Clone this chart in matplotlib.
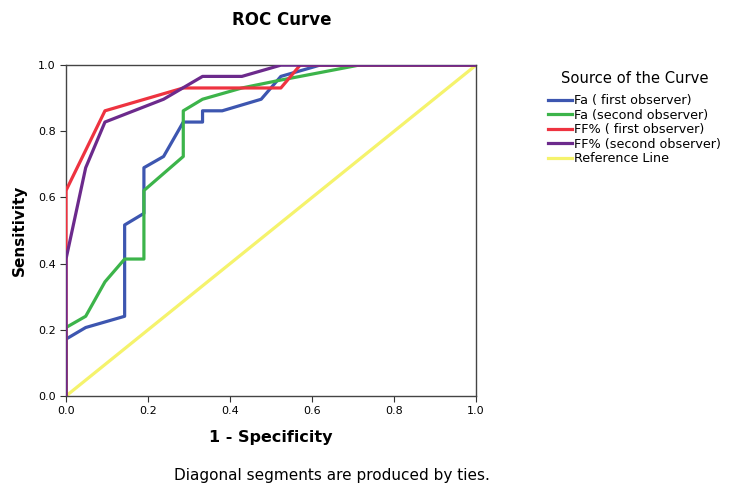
import numpy as np
import matplotlib.pyplot as plt

# ROC curve points (1 - specificity, sensitivity)
fa1_x = [0, 0, 0.048, 0.143, 0.143, 0.190, 0.190, 0.238, 0.286, 0.333, 0.333, 0.381, 0.476, 0.524, 0.619, 1.0]
fa1_y = [0, 0.172, 0.207, 0.241, 0.517, 0.552, 0.690, 0.724, 0.828, 0.828, 0.862, 0.862, 0.897, 0.966, 1.0, 1.0]

fa2_x = [0, 0, 0.048, 0.095, 0.143, 0.190, 0.190, 0.286, 0.286, 0.333, 0.429, 0.524, 0.571, 0.714, 1.0]
fa2_y = [0, 0.207, 0.241, 0.345, 0.414, 0.414, 0.621, 0.724, 0.862, 0.897, 0.931, 0.955, 0.966, 1.0, 1.0]

ff1_x = [0, 0, 0.095, 0.286, 0.524, 0.571, 1.0]
ff1_y = [0, 0.621, 0.862, 0.931, 0.931, 1.0, 1.0]

ff2_x = [0, 0, 0.048, 0.095, 0.238, 0.333, 0.429, 0.524, 1.0]
ff2_y = [0, 0.414, 0.690, 0.828, 0.897, 0.966, 0.966, 1.0, 1.0]

ref_x = [0, 1]
ref_y = [0, 1]

labels = ['Fa ( first observer)', 'Fa (second observer)', 'FF% ( first observer)',
          'FF% (second observer)', 'Reference Line']
colors = ['#3D56B0', '#3CB44A', '#EE3340', '#6C2A8C', '#F5F36C']

fig = plt.figure(figsize=(7.31, 4.88), dpi=100)
ax = fig.add_axes([0.0903, 0.1885, 0.5609, 0.678])

lw = 2.3
ax.plot(ref_x, ref_y, color=colors[4], lw=lw, label=labels[4], zorder=1)
ax.plot(fa1_x, fa1_y, color=colors[0], lw=lw, label=labels[0], zorder=2)
ax.plot(fa2_x, fa2_y, color=colors[1], lw=lw, label=labels[1], zorder=3)
ax.plot(ff1_x, ff1_y, color=colors[2], lw=lw, label=labels[2], zorder=4)
ax.plot(ff2_x, ff2_y, color=colors[3], lw=lw, label=labels[3], zorder=5)

ax.set_xlim(0, 1)
ax.set_ylim(0, 1)
ax.set_xticks(np.arange(0, 1.01, 0.2))
ax.set_yticks(np.arange(0, 1.01, 0.2))
ax.xaxis.set_major_formatter(plt.FormatStrFormatter('%.1f'))
ax.yaxis.set_major_formatter(plt.FormatStrFormatter('%.1f'))
ax.tick_params(axis='both', labelsize=8, direction='out', length=4, color='#333333')
for s in ax.spines.values():
    s.set_color('#444444')
    s.set_linewidth(1.0)

ax.set_xlabel('1 - Specificity', fontsize=11.5, fontweight='bold', labelpad=10)
ax.set_ylabel('Sensitivity', fontsize=11, fontweight='bold', labelpad=8)
fig.text(0.386, 0.959, 'ROC Curve', fontsize=12, fontweight='bold', ha='center', va='center')
fig.text(0.454, 0.025, 'Diagonal segments are produced by ties.', fontsize=11, ha='center', va='center')

handles, labs = ax.get_legend_handles_labels()
order = [1, 2, 3, 4, 0]
leg = fig.legend([handles[i] for i in order], [labs[i] for i in order],
                 title='Source of the Curve', loc='upper left',
                 bbox_to_anchor=(0.741, 0.868), frameon=False, fontsize=9.2,
                 title_fontsize=10.6, handlelength=1.9, handletextpad=0.15,
                 labelspacing=0.12, borderpad=0)
leg._legend_box.sep = 6

fig.savefig('out.png', dpi=100)
